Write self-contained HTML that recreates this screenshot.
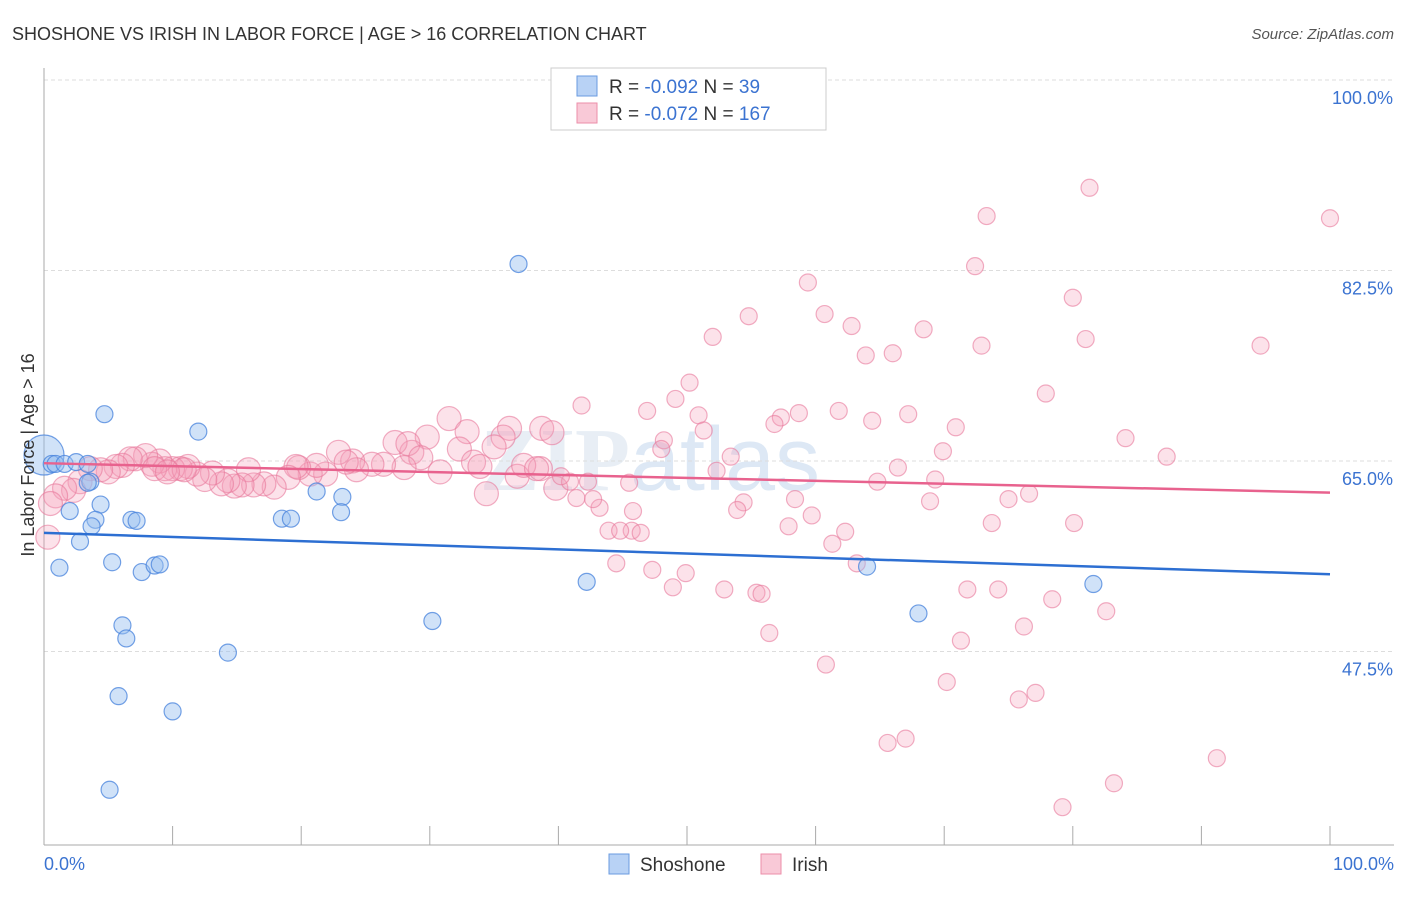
<!DOCTYPE html>
<html><head><meta charset="utf-8"><style>
body{margin:0;background:#fff;font-family:"Liberation Sans",sans-serif;}
</style></head><body>
<svg id="c" width="1406" height="892" xmlns="http://www.w3.org/2000/svg">
<text x="12" y="40" font-size="18" fill="#333">SHOSHONE VS IRISH IN LABOR FORCE | AGE &gt; 16 CORRELATION CHART</text>
<text x="1394" y="39" font-size="15" fill="#555" font-style="italic" text-anchor="end">Source: ZipAtlas.com</text>
<text x="650" y="490" font-size="90" fill="#e8eef5" font-family="Liberation Serif,serif" font-weight="bold" text-anchor="middle">ZIP<tspan font-family="Liberation Sans,sans-serif" font-weight="normal" fill="#dde8f5">atlas</tspan></text>
<g id="grid"></g><g id="axes"></g><g id="pts"></g><g id="trend"></g>
<text transform="translate(34,455) rotate(-90)" font-size="18" fill="#333" text-anchor="middle">In Labor Force | Age &gt; 16</text>
<text x="44" y="870" font-size="18" fill="#3b73d1">0.0%</text>
<text x="1394" y="870" font-size="18" fill="#3b73d1" text-anchor="end">100.0%</text>
<g>
<rect x="551" y="68" width="275" height="62" fill="#fff" stroke="#ccc"/>
<rect x="577" y="76" width="20" height="20" fill="#b8d2f5" stroke="#6a9be0"/>
<rect x="577" y="103" width="20" height="20" fill="#f9c9d7" stroke="#ec8eaa"/>
<text x="609" y="93" font-size="19" fill="#333">R = <tspan fill="#3b73d1">-0.092</tspan>   N =  <tspan fill="#3b73d1">39</tspan></text>
<text x="609" y="120" font-size="19" fill="#333">R = <tspan fill="#3b73d1">-0.072</tspan>   N = <tspan fill="#3b73d1">167</tspan></text>
</g>
<g>
<rect x="609" y="854" width="20" height="20" fill="#b8d2f5" stroke="#6a9be0"/>
<text x="640" y="871" font-size="19" fill="#333">Shoshone</text>
<rect x="761" y="854" width="20" height="20" fill="#f9c9d7" stroke="#ec8eaa"/>
<text x="792" y="871" font-size="19" fill="#333">Irish</text>
</g>
</svg>
<script>
const yTicks=[100,82.5,65,47.5];
const yTickLabels=["100.0%","82.5%","65.0%","47.5%"];
const xTicks=[0,10,20,30,40,50,60,70,80,90,100];
const blueX=[0,0.6,0.9,1.6,2.5,3.4,4.7,12.0,3.6,2.0,4.4,4.0,3.7,2.8,1.2,5.3,6.8,7.2,7.6,8.6,9.0,6.1,6.4,14.3,5.8,10.0,5.1,18.5,19.2,21.2,23.2,23.1,36.9,30.2,42.2,64.0,68.0,81.6,3.4];
const blueY=[65.55,64.73,64.73,64.73,64.9,64.73,69.3,67.7,63.1,60.4,61.0,59.6,59.0,57.6,55.2,55.7,59.6,59.5,54.8,55.4,55.5,49.9,48.7,47.4,43.4,42.0,34.8,59.7,59.7,62.2,61.7,60.3,83.1,50.3,53.9,55.3,51.0,53.7,63.0];
const pinkX=[81.3,73.3,100,72.4,59.4,80.0,54.8,60.7,62.8,68.4,52.0,81.0,72.9,94.6,63.9,66.0,50.2,77.9,41.8,49.1,46.9,50.9,58.7,61.8,67.2,57.3,56.8,64.4,70.9,51.3,84.1,48.2,48.0,53.4,69.9,87.3,66.4,52.3,64.8,69.3,68.9,76.6,75.0,58.4,54.4,53.9,59.7,73.7,80.1,57.9,62.3,61.3,63.2,44.5,47.3,49.9,48.9,52.9,55.4,55.8,71.8,74.2,78.4,82.6,76.2,56.4,71.3,60.8,70.2,75.8,77.1,65.6,67.0,91.2,83.2,79.2,45.7,43.9,44.8,46.4,43.2,42.7,45.8,41.4,39.8,40.9,42.3,45.5,40.2,34.4,36.8,38.6,37.3,38.3,36.2,35.7,35.0,38.7,39.5,31.5,32.9,29.8,32.3,28.6,27.3,28.3,29.3,33.4,33.9,30.8,28.0,26.4,25.5,24.0,24.3,22.9,23.5,21.9,20.7,21.2,19.8,19.6,19.0,17.9,17.1,16.3,15.9,15.4,14.8,14.3,13.8,13.1,12.5,11.9,11.2,10.6,10.0,9.4,9.0,8.4,7.9,7.1,6.7,6.1,5.6,5.0,4.4,3.6,2.8,2.3,1.6,0.9,0.5,0.3,10.9,8.6,9.6];
const pinkY=[90.1,87.5,87.3,82.9,81.4,80.0,78.3,78.5,77.4,77.1,76.4,76.2,75.6,75.6,74.7,74.9,72.2,71.2,70.1,70.7,69.6,69.2,69.4,69.6,69.3,69.0,68.4,68.7,68.1,67.8,67.1,66.9,66.1,65.4,65.9,65.4,64.4,64.1,63.1,63.3,61.3,62.0,61.5,61.5,61.2,60.5,60.0,59.3,59.3,59.0,58.5,57.4,55.6,55.6,55.0,54.7,53.4,53.2,52.9,52.8,53.2,53.2,52.3,51.2,49.8,49.2,48.5,46.3,44.7,43.1,43.7,39.1,39.5,37.7,35.4,33.2,58.6,58.6,58.6,58.4,60.7,61.5,60.4,61.6,62.5,63.1,63.1,63.0,63.6,62.0,63.6,64.3,64.6,64.3,68.0,67.2,66.3,68.0,67.6,68.9,67.7,67.2,66.1,65.8,66.7,66.6,65.3,64.9,64.5,64.0,64.4,64.7,64.7,65.0,64.2,65.8,64.9,63.8,63.8,64.6,64.4,64.5,63.5,62.6,62.9,62.8,64.2,62.8,62.7,63.2,62.9,63.9,63.3,63.8,64.5,64.3,64.3,64.3,65.0,64.7,65.5,65.2,65.2,64.6,64.5,64.0,64.2,64.3,63.1,62.3,62.5,61.8,61.1,58.0,64.2,64.3,64.0];
const blueTrend=[58.4,54.6];
const pinkTrend=[64.8,62.1];
const NS='http://www.w3.org/2000/svg';
const X=v=>44+v*12.86;
const Y=v=>80+(100-v)*10.886;
function mk(p,t,a){const e=document.createElementNS(NS,t);for(const k in a)e.setAttribute(k,a[k]);document.getElementById(p).appendChild(e);return e;}
yTicks.forEach((t,i)=>{
 const l=mk('grid','line',{x1:44,x2:1394,y1:Y(t),y2:Y(t),stroke:'#ddd','stroke-dasharray':'4,3'});
 
 
 const tx=mk('grid','text',{x:1393,y:Y(t)+24,'font-size':18,fill:'#3b73d1','text-anchor':'end'});
 tx.textContent=yTickLabels[i];
 
 
});
const ax=mk('axes','line',{x1:44,x2:44,y1:68,y2:845,stroke:'#aaa'});


const bx=mk('axes','line',{x1:44,x2:1394,y1:845,y2:845,stroke:'#aaa'});


xTicks.forEach(t=>{
 const l=mk('axes','line',{x1:X(t),x2:X(t),y1:826,y2:845,stroke:'#aaa'});
 
 
});
pinkX.forEach((x,i)=>{
 const c=mk('pts','circle',{cx:X(x),cy:Y(pinkY[i]),r:x<40?12:8.5,fill:'rgba(244,160,186,0.3)',stroke:'rgba(232,120,155,0.6)','stroke-width':1.2});
 
 
});
blueX.forEach((x,i)=>{
 const c=mk('pts','circle',{cx:X(x),cy:Y(blueY[i]),r:i==0?20:8.5,fill:'rgba(150,190,240,0.45)',stroke:'rgba(70,130,220,0.75)','stroke-width':1.2});
 
 
});
const bt=mk('trend','line',{x1:X(0),x2:X(100),y1:Y(blueTrend[0]),y2:Y(blueTrend[1]),stroke:'#2d6fd2','stroke-width':2.5});


const pt=mk('trend','line',{x1:X(0),x2:X(100),y1:Y(pinkTrend[0]),y2:Y(pinkTrend[1]),stroke:'#e8628e','stroke-width':2.5});


</script>
</body></html>
